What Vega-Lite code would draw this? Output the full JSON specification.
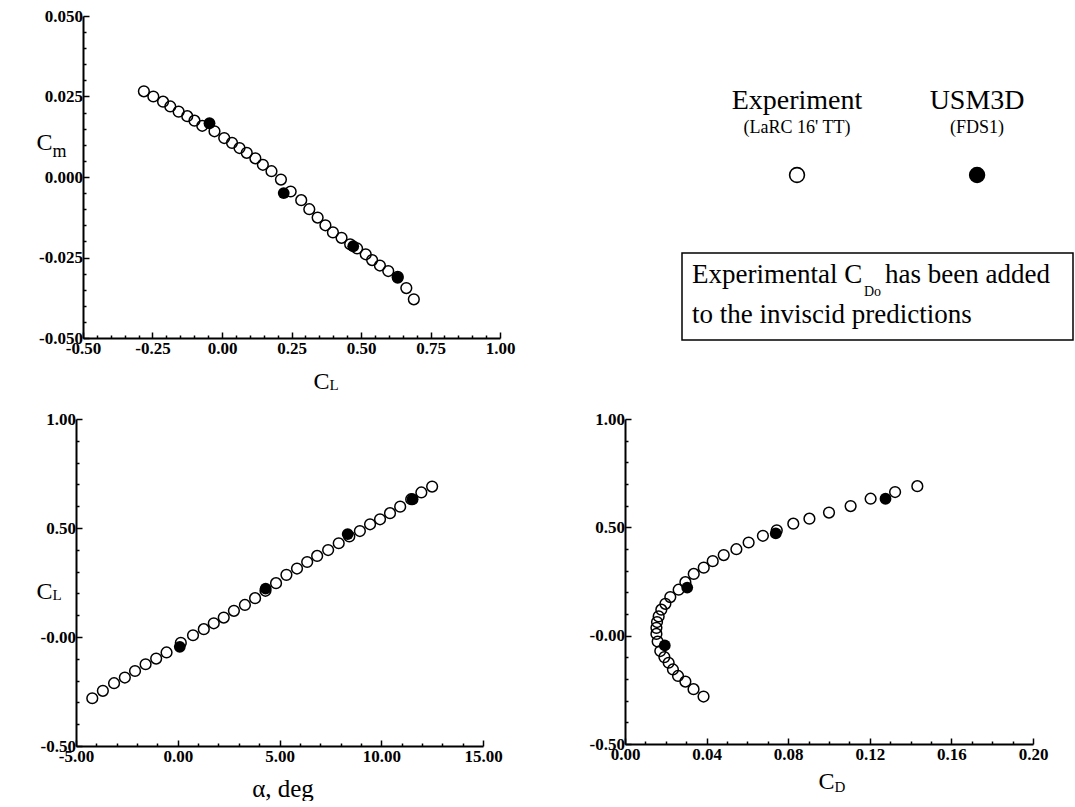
{
  "$schema": "https://vega.github.io/schema/vega-lite/v6.json",
  "autosize": {"type": "pad"},
  "padding": {"left": 36, "top": 7, "right": 0, "bottom": 0},
  "background": "white",
  "columns": 2,
  "bounds": "flush",
  "align": "each",
  "spacing": {"row": 79, "column": 125},
  "datasets": {
    "exp": [
      {"alpha": -4.20, "CL": -0.281, "CD": 0.0385, "Cm": 0.0266},
      {"alpha": -3.68, "CL": -0.247, "CD": 0.0336, "Cm": 0.0250},
      {"alpha": -3.13, "CL": -0.212, "CD": 0.0296, "Cm": 0.0234},
      {"alpha": -2.60, "CL": -0.186, "CD": 0.0260, "Cm": 0.0219},
      {"alpha": -2.10, "CL": -0.156, "CD": 0.0235, "Cm": 0.0203},
      {"alpha": -1.58, "CL": -0.125, "CD": 0.0214, "Cm": 0.0189},
      {"alpha": -1.06, "CL": -0.099, "CD": 0.0193, "Cm": 0.0175},
      {"alpha": -0.55, "CL": -0.071, "CD": 0.0173, "Cm": 0.0159},
      {"alpha": 0.15, "CL": -0.027, "CD": 0.0160, "Cm": 0.0142},
      {"alpha": 0.75, "CL": 0.008, "CD": 0.0154, "Cm": 0.0121},
      {"alpha": 1.28, "CL": 0.036, "CD": 0.0154, "Cm": 0.0106},
      {"alpha": 1.77, "CL": 0.063, "CD": 0.0157, "Cm": 0.0090},
      {"alpha": 2.26, "CL": 0.089, "CD": 0.0165, "Cm": 0.0075},
      {"alpha": 2.76, "CL": 0.120, "CD": 0.0178, "Cm": 0.0058},
      {"alpha": 3.30, "CL": 0.147, "CD": 0.0198, "Cm": 0.0038},
      {"alpha": 3.80, "CL": 0.178, "CD": 0.0222, "Cm": 0.0018},
      {"alpha": 4.31, "CL": 0.212, "CD": 0.0263, "Cm": -0.0008},
      {"alpha": 4.83, "CL": 0.247, "CD": 0.0296, "Cm": -0.0045},
      {"alpha": 5.34, "CL": 0.285, "CD": 0.0337, "Cm": -0.0072},
      {"alpha": 5.86, "CL": 0.314, "CD": 0.0386, "Cm": -0.0100},
      {"alpha": 6.36, "CL": 0.344, "CD": 0.0430, "Cm": -0.0126},
      {"alpha": 6.85, "CL": 0.372, "CD": 0.0484, "Cm": -0.0150},
      {"alpha": 7.39, "CL": 0.399, "CD": 0.0546, "Cm": -0.0172},
      {"alpha": 7.91, "CL": 0.430, "CD": 0.0606, "Cm": -0.0189},
      {"alpha": 8.43, "CL": 0.461, "CD": 0.0676, "Cm": -0.0209},
      {"alpha": 8.95, "CL": 0.486, "CD": 0.0744, "Cm": -0.0222},
      {"alpha": 9.45, "CL": 0.517, "CD": 0.0825, "Cm": -0.0240},
      {"alpha": 9.94, "CL": 0.540, "CD": 0.0904, "Cm": -0.0258},
      {"alpha": 10.43, "CL": 0.568, "CD": 0.1000, "Cm": -0.0275},
      {"alpha": 10.93, "CL": 0.598, "CD": 0.1106, "Cm": -0.0292},
      {"alpha": 11.47, "CL": 0.632, "CD": 0.1204, "Cm": -0.0310},
      {"alpha": 11.97, "CL": 0.663, "CD": 0.1324, "Cm": -0.0345},
      {"alpha": 12.50, "CL": 0.690, "CD": 0.1433, "Cm": -0.0380}
    ],
    "cfd": [
      {"alpha": 0.10, "CL": -0.045, "CD": 0.0195, "Cm": 0.0167},
      {"alpha": 4.32, "CL": 0.222, "CD": 0.0305, "Cm": -0.0050},
      {"alpha": 8.35, "CL": 0.472, "CD": 0.0739, "Cm": -0.0215},
      {"alpha": 11.54, "CL": 0.632, "CD": 0.1277, "Cm": -0.0313}
    ],
    "legend": [
      {"series": "Experiment", "sub": "(LaRC 16' TT)"},
      {"series": "USM3D", "sub": "(FDS1)"}
    ],
    "note": [
      {"id": "note", "a": "Experimental C", "b": "Do", "c": "has been added", "d": "to the inviscid predictions"}
    ]
  },
  "concat": [
    {
      "width": 424,
      "height": 322,
      "layer": [
        {
          "data": {"name": "exp"},
          "mark": {"type": "point", "shape": "circle", "filled": false, "color": "black", "strokeWidth": 1.5, "size": 115, "opacity": 1},
          "encoding": {
            "x": {
              "field": "CL", "type": "quantitative",
              "scale": {"domain": [-0.5, 1.0], "range": [7, 424], "nice": false, "zero": false},
              "axis": {
                "orient": "bottom", "values": [-0.5, -0.25, 0, 0.25, 0.5, 0.75, 1.0],
                "labelExpr": "datum.value < 0 ? '-' + format(-datum.value, '.2f') : format(datum.value, '.2f')",
                "tickSize": -6, "labelPadding": 8,
                "title": "C", "titleX": 237, "titleY": 50, "titleAlign": "left", "titleBaseline": "alphabetic", "titleFontSize": 24
              }
            },
            "y": {
              "field": "Cm", "type": "quantitative",
              "scale": {"domain": [-0.05, 0.05], "nice": false, "zero": false},
              "axis": {
                "orient": "left", "offset": -7, "values": [-0.05, -0.025, 0, 0.025, 0.05],
                "labelExpr": "datum.value < 0 ? '-' + format(-datum.value, '.3f') : format(datum.value, '.3f')",
                "tickSize": -6, "labelPadding": 6.5,
                "title": "C", "titleAngle": 0, "titleX": -47, "titleY": 133, "titleAlign": "left", "titleBaseline": "alphabetic", "titleFontSize": 24
              }
            }
          }
        },
        {
          "data": {"name": "cfd"},
          "mark": {"type": "point", "shape": "circle", "filled": true, "color": "black", "size": 140, "opacity": 1},
          "encoding": {
            "x": {
              "field": "CL", "type": "quantitative",
              "scale": {"domain": [-0.5, 1.0], "range": [7, 424], "nice": false, "zero": false},
              "axis": {
                "orient": "bottom", "values": [-0.45, -0.4, -0.35, -0.3, -0.2, -0.15, -0.1, -0.05, 0.05, 0.1, 0.15, 0.2, 0.3, 0.35, 0.4, 0.45, 0.55, 0.6, 0.65, 0.7, 0.8, 0.85, 0.9, 0.95],
                "labels": false, "domain": false, "tickSize": -3,
                "title": "L", "titleX": 253, "titleY": 51, "titleAlign": "left", "titleBaseline": "alphabetic", "titleFontSize": 15
              }
            },
            "y": {
              "field": "Cm", "type": "quantitative",
              "scale": {"domain": [-0.05, 0.05], "nice": false, "zero": false},
              "axis": {
                "orient": "left", "offset": -7, "values": [-0.045, -0.04, -0.035, -0.03, -0.02, -0.015, -0.01, -0.005, 0.005, 0.01, 0.015, 0.02, 0.03, 0.035, 0.04, 0.045],
                "labels": false, "domain": false, "tickSize": -3,
                "title": "m", "titleAngle": 0, "titleX": -31, "titleY": 140, "titleAlign": "left", "titleBaseline": "alphabetic", "titleFontSize": 18
              }
            }
          }
        }
      ],
      "resolve": {"axis": {"x": "independent", "y": "independent"}}
    },
    {
      "width": 448,
      "height": 324,
      "layer": [
        {
          "data": {"name": "legend"},
          "mark": {"type": "text", "fontSize": 28, "align": "center", "baseline": "alphabetic", "dy": -69},
          "encoding": {
            "x": {"field": "series", "type": "nominal", "sort": null, "scale": {"type": "point", "padding": 0.744, "align": 0.642}, "axis": null},
            "text": {"field": "series"}
          }
        },
        {
          "data": {"name": "legend"},
          "mark": {"type": "text", "fontSize": 18, "align": "center", "baseline": "alphabetic", "dy": -45},
          "encoding": {
            "x": {"field": "series", "type": "nominal", "sort": null, "scale": {"type": "point", "padding": 0.744, "align": 0.642}, "axis": null},
            "text": {"field": "sub"}
          }
        },
        {
          "data": {"name": "legend"},
          "mark": {"type": "point", "shape": "circle", "size": 220, "stroke": "black", "strokeWidth": 1.6, "opacity": 1, "yOffset": -3},
          "encoding": {
            "x": {"field": "series", "type": "nominal", "sort": null, "scale": {"type": "point", "padding": 0.744, "align": 0.642}, "axis": null},
            "fill": {"field": "series", "type": "nominal", "scale": {"domain": ["Experiment", "USM3D"], "range": ["transparent", "black"]}, "legend": null}
          }
        },
        {
          "data": {"name": "note"},
          "mark": {"type": "rect", "filled": false, "stroke": "black", "strokeWidth": 1.5},
          "encoding": {
            "x": {"field": "id", "type": "nominal", "scale": {"type": "band", "paddingInner": 0, "paddingOuter": 0, "range": [57, 448]}, "axis": null},
            "y": {"field": "id", "type": "nominal", "scale": {"type": "band", "paddingInner": 0, "paddingOuter": 0, "range": [237, 324]}, "axis": null}
          }
        },
        {
          "data": {"name": "note"},
          "mark": {"type": "text", "fontSize": 27, "align": "left", "baseline": "alphabetic", "dx": 10, "dy": 30},
          "encoding": {
            "x": {"field": "id", "type": "nominal", "bandPosition": 0, "scale": {"type": "band", "paddingInner": 0, "paddingOuter": 0, "range": [57, 448]}, "axis": null},
            "y": {"field": "id", "type": "nominal", "bandPosition": 0, "scale": {"type": "band", "paddingInner": 0, "paddingOuter": 0, "range": [237, 324]}, "axis": null},
            "text": {"field": "a"}
          }
        },
        {
          "data": {"name": "note"},
          "mark": {"type": "text", "fontSize": 14, "align": "left", "baseline": "alphabetic", "dx": 182, "dy": 43},
          "encoding": {
            "x": {"field": "id", "type": "nominal", "bandPosition": 0, "scale": {"type": "band", "paddingInner": 0, "paddingOuter": 0, "range": [57, 448]}, "axis": null},
            "y": {"field": "id", "type": "nominal", "bandPosition": 0, "scale": {"type": "band", "paddingInner": 0, "paddingOuter": 0, "range": [237, 324]}, "axis": null},
            "text": {"field": "b"}
          }
        },
        {
          "data": {"name": "note"},
          "mark": {"type": "text", "fontSize": 27, "align": "left", "baseline": "alphabetic", "dx": 203, "dy": 30},
          "encoding": {
            "x": {"field": "id", "type": "nominal", "bandPosition": 0, "scale": {"type": "band", "paddingInner": 0, "paddingOuter": 0, "range": [57, 448]}, "axis": null},
            "y": {"field": "id", "type": "nominal", "bandPosition": 0, "scale": {"type": "band", "paddingInner": 0, "paddingOuter": 0, "range": [237, 324]}, "axis": null},
            "text": {"field": "c"}
          }
        },
        {
          "data": {"name": "note"},
          "mark": {"type": "text", "fontSize": 27, "align": "left", "baseline": "alphabetic", "dx": 10, "dy": 70},
          "encoding": {
            "x": {"field": "id", "type": "nominal", "bandPosition": 0, "scale": {"type": "band", "paddingInner": 0, "paddingOuter": 0, "range": [57, 448]}, "axis": null},
            "y": {"field": "id", "type": "nominal", "bandPosition": 0, "scale": {"type": "band", "paddingInner": 0, "paddingOuter": 0, "range": [237, 324]}, "axis": null},
            "text": {"field": "d"}
          }
        }
      ],
      "resolve": {"scale": {"x": "independent", "y": "independent", "fill": "independent"}}
    },
    {
      "width": 407,
      "height": 327,
      "layer": [
        {
          "data": {"name": "exp"},
          "mark": {"type": "point", "shape": "circle", "filled": false, "color": "black", "strokeWidth": 1.5, "size": 115, "opacity": 1},
          "encoding": {
            "x": {
              "field": "alpha", "type": "quantitative",
              "scale": {"domain": [-5, 15], "nice": false, "zero": false},
              "axis": {
                "orient": "bottom", "values": [-5, 0, 5, 10, 15],
                "labelExpr": "datum.value < 0 ? '-' + format(-datum.value, '.2f') : format(datum.value, '.2f')",
                "tickSize": -6, "labelPadding": 8,
                "title": "α, deg", "titleX": 206.5, "titleY": 50, "titleAlign": "center", "titleBaseline": "alphabetic", "titleFontSize": 25
              }
            },
            "y": {
              "field": "CL", "type": "quantitative",
              "scale": {"domain": [-0.5, 1.0], "nice": false, "zero": false},
              "axis": {
                "orient": "left", "values": [-0.5, 0, 0.5, 1.0],
                "labelExpr": "datum.value == 0 ? '-0.00' : (datum.value < 0 ? '-' + format(-datum.value, '.2f') : format(datum.value, '.2f'))",
                "tickSize": -6, "labelPadding": 6.5,
                "title": "C", "titleAngle": 0, "titleX": -40, "titleY": 179, "titleAlign": "left", "titleBaseline": "alphabetic", "titleFontSize": 24
              }
            }
          }
        },
        {
          "data": {"name": "cfd"},
          "mark": {"type": "point", "shape": "circle", "filled": true, "color": "black", "size": 140, "opacity": 1},
          "encoding": {
            "x": {
              "field": "alpha", "type": "quantitative",
              "scale": {"domain": [-5, 15], "nice": false, "zero": false},
              "axis": {
                "orient": "bottom", "values": [-4, -3, -2, -1, 1, 2, 3, 4, 6, 7, 8, 9, 11, 12, 13, 14],
                "labels": false, "domain": false, "tickSize": -3, "title": null
              }
            },
            "y": {
              "field": "CL", "type": "quantitative",
              "scale": {"domain": [-0.5, 1.0], "nice": false, "zero": false},
              "axis": {
                "orient": "left", "values": [-0.4, -0.3, -0.2, -0.1, 0.1, 0.2, 0.3, 0.4, 0.6, 0.7, 0.8, 0.9],
                "labels": false, "domain": false, "tickSize": -3,
                "title": "L", "titleAngle": 0, "titleX": -24, "titleY": 180, "titleAlign": "left", "titleBaseline": "alphabetic", "titleFontSize": 15
              }
            }
          }
        }
      ],
      "resolve": {"axis": {"x": "independent", "y": "independent"}}
    },
    {
      "width": 408,
      "height": 325,
      "layer": [
        {
          "data": {"name": "exp"},
          "mark": {"type": "point", "shape": "circle", "filled": false, "color": "black", "strokeWidth": 1.5, "size": 115, "opacity": 1},
          "encoding": {
            "x": {
              "field": "CD", "type": "quantitative",
              "scale": {"domain": [0, 0.2], "nice": false, "zero": false},
              "axis": {
                "orient": "bottom", "values": [0, 0.04, 0.08, 0.12, 0.16, 0.2],
                "labelExpr": "format(datum.value, '.2f')",
                "tickSize": -6, "labelPadding": 8,
                "title": "C", "titleX": 193, "titleY": 44, "titleAlign": "left", "titleBaseline": "alphabetic", "titleFontSize": 24
              }
            },
            "y": {
              "field": "CL", "type": "quantitative",
              "scale": {"domain": [-0.5, 1.0], "nice": false, "zero": false},
              "axis": {
                "orient": "left", "values": [-0.5, 0, 0.5, 1.0],
                "labelExpr": "datum.value == 0 ? '-0.00' : (datum.value < 0 ? '-' + format(-datum.value, '.2f') : format(datum.value, '.2f'))",
                "tickSize": -6, "labelPadding": 6.5, "title": null
              }
            }
          }
        },
        {
          "data": {"name": "cfd"},
          "mark": {"type": "point", "shape": "circle", "filled": true, "color": "black", "size": 140, "opacity": 1},
          "encoding": {
            "x": {
              "field": "CD", "type": "quantitative",
              "scale": {"domain": [0, 0.2], "nice": false, "zero": false},
              "axis": {
                "orient": "bottom", "values": [0.01, 0.02, 0.03, 0.05, 0.06, 0.07, 0.09, 0.1, 0.11, 0.13, 0.14, 0.15, 0.17, 0.18, 0.19],
                "labels": false, "domain": false, "tickSize": -3,
                "title": "D", "titleX": 209, "titleY": 47, "titleAlign": "left", "titleBaseline": "alphabetic", "titleFontSize": 15
              }
            },
            "y": {
              "field": "CL", "type": "quantitative",
              "scale": {"domain": [-0.5, 1.0], "nice": false, "zero": false},
              "axis": {
                "orient": "left", "values": [-0.4, -0.3, -0.2, -0.1, 0.1, 0.2, 0.3, 0.4, 0.6, 0.7, 0.8, 0.9],
                "labels": false, "domain": false, "tickSize": -3, "title": null
              }
            }
          }
        }
      ],
      "resolve": {"axis": {"x": "independent", "y": "independent"}}
    }
  ],
  "config": {
    "font": "Liberation Serif",
    "view": {"stroke": null},
    "axis": {
      "labelFont": "Liberation Serif", "labelFontSize": 17, "labelFontWeight": "bold", "labelColor": "black",
      "titleFont": "Liberation Serif", "titleColor": "black", "titleFontWeight": "normal",
      "domainColor": "black", "domainWidth": 2, "tickColor": "black", "tickWidth": 1.5,
      "grid": false, "labelFlush": false, "labelOverlap": false, "labelBound": false
    },
    "text": {"font": "Liberation Serif", "color": "black"}
  }
}
